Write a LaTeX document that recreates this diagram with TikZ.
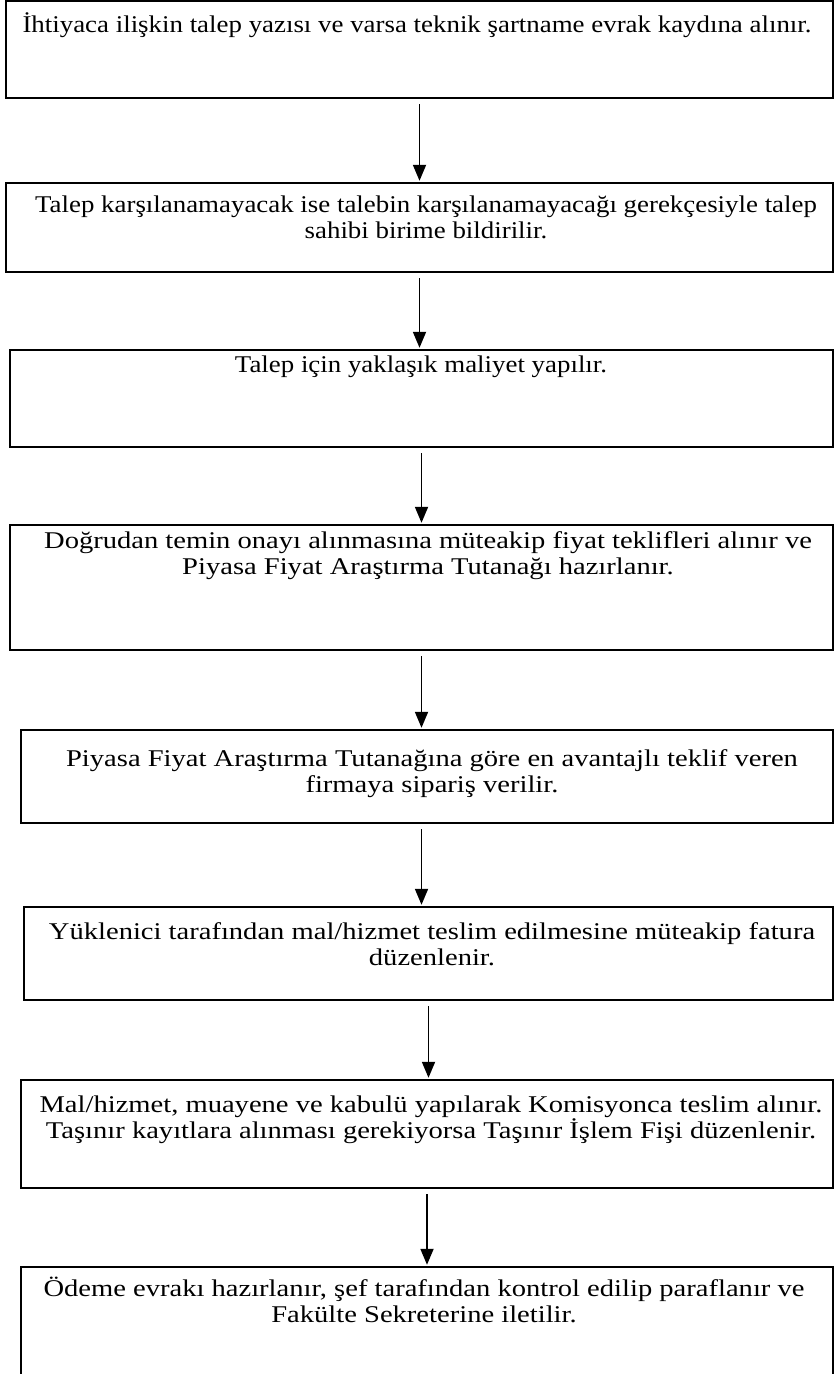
\documentclass[tikz,border=0pt]{standalone}
\usepackage{fontspec}
\setmainfont{Liberation Serif}
\newfontfamily\txtnarrow[FakeStretch=1.12]{Liberation Serif}
\newfontfamily\txtwide[FakeStretch=1.19]{Liberation Serif}
\usetikzlibrary{arrows.meta}

\begin{document}
\begin{tikzpicture}[x=1pt,y=-1pt]
		\useasboundingbox (0,0) rectangle (418,687);
		\tikzstyle{box}=[draw,line width=1.2pt,rectangle,inner sep=0pt]
		\tikzstyle{txt}=[align=center,inner sep=0pt,font=\txtnarrow\fontsize{12}{13}\selectfont]
		\tikzstyle{txtw}=[txt,font=\txtwide\fontsize{12}{13}\selectfont]
		\node[box,minimum width=413.5pt,minimum height=48.5pt] (b1) at (209.75,24.75) {};
		\node[box,minimum width=413.5pt,minimum height=44.5pt] (b2) at (209.75,113.75) {};
		\node[box,minimum width=411.5pt,minimum height=48.5pt] (b3) at (210.75,199.25) {};
		\node[box,minimum width=411.5pt,minimum height=62.5pt] (b4) at (210.75,293.75) {};
		\node[box,minimum width=406pt,minimum height=46.5pt] (b5) at (213.5,388.25) {};
		\node[box,minimum width=404.5pt,minimum height=46.5pt] (b6) at (214.25,476.75) {};
		\node[box,minimum width=406pt,minimum height=54pt] (b7) at (213.5,567) {};
		\node[box,minimum width=406pt,minimum height=56.5pt] (b8) at (213.5,661.75) {};
		\node[txt] (t1) at (208.5,12.5) {İhtiyaca ilişkin talep yazısı ve varsa teknik şartname evrak kaydına alınır.};
		\node[txt] (t2) at (213,108.5) {Talep karşılanamayacak ise talebin karşılanamayacağı gerekçesiyle talep\\sahibi birime bildirilir.};
		\node[txt] (t3) at (210.5,183.5) {Talep için yaklaşık maliyet yapılır.};
		\node[txtw] (t4) at (214,278) {Doğrudan temin onayı alınmasına müteakip fiyat teklifleri alınır ve\\Piyasa Fiyat Araştırma Tutanağı hazırlanır.};
		\node[txtw] (t5) at (216,387) {Piyasa Fiyat Araştırma Tutanağına göre en avantajlı teklif veren\\firmaya sipariş verilir.};
		\node[txtw] (t6) at (216,472) {Yüklenici tarafından mal/hizmet teslim edilmesine müteakip fatura\\düzenlenir.};
		\node[txtw] (t7) at (215.5,560) {Mal/hizmet, muayene ve kabulü yapılarak Komisyonca teslim alınır.\\Taşınır kayıtlara alınması gerekiyorsa Taşınır İşlem Fişi düzenlenir.};
		\node[txtw] (t8) at (212,650) {Ödeme evrakı hazırlanır, şef tarafından kontrol edilip paraflanır ve\\Fakülte Sekreterine iletilir.};
		\tikzstyle{flow}=[-{Triangle[length=8pt,width=6.5pt]},line width=0.9pt,shorten <=2.5pt,shorten >=0.5pt]
		\draw[flow] (b1.south) -- (b1.south |- b2.north);
		\draw[flow] (b2.south) -- (b2.south |- b3.north);
		\draw[flow] (b3.south) -- (b3.south |- b4.north);
		\draw[flow] (b4.south) -- (b4.south |- b5.north);
		\draw[flow] (b4.south |- b5.south) -- (b4.south |- b6.north);
		\draw[flow] (b6.south) -- (b6.south |- b7.north);
		\draw[flow] (b7.south) -- (b7.south |- b8.north);
\end{tikzpicture}
\end{document}
